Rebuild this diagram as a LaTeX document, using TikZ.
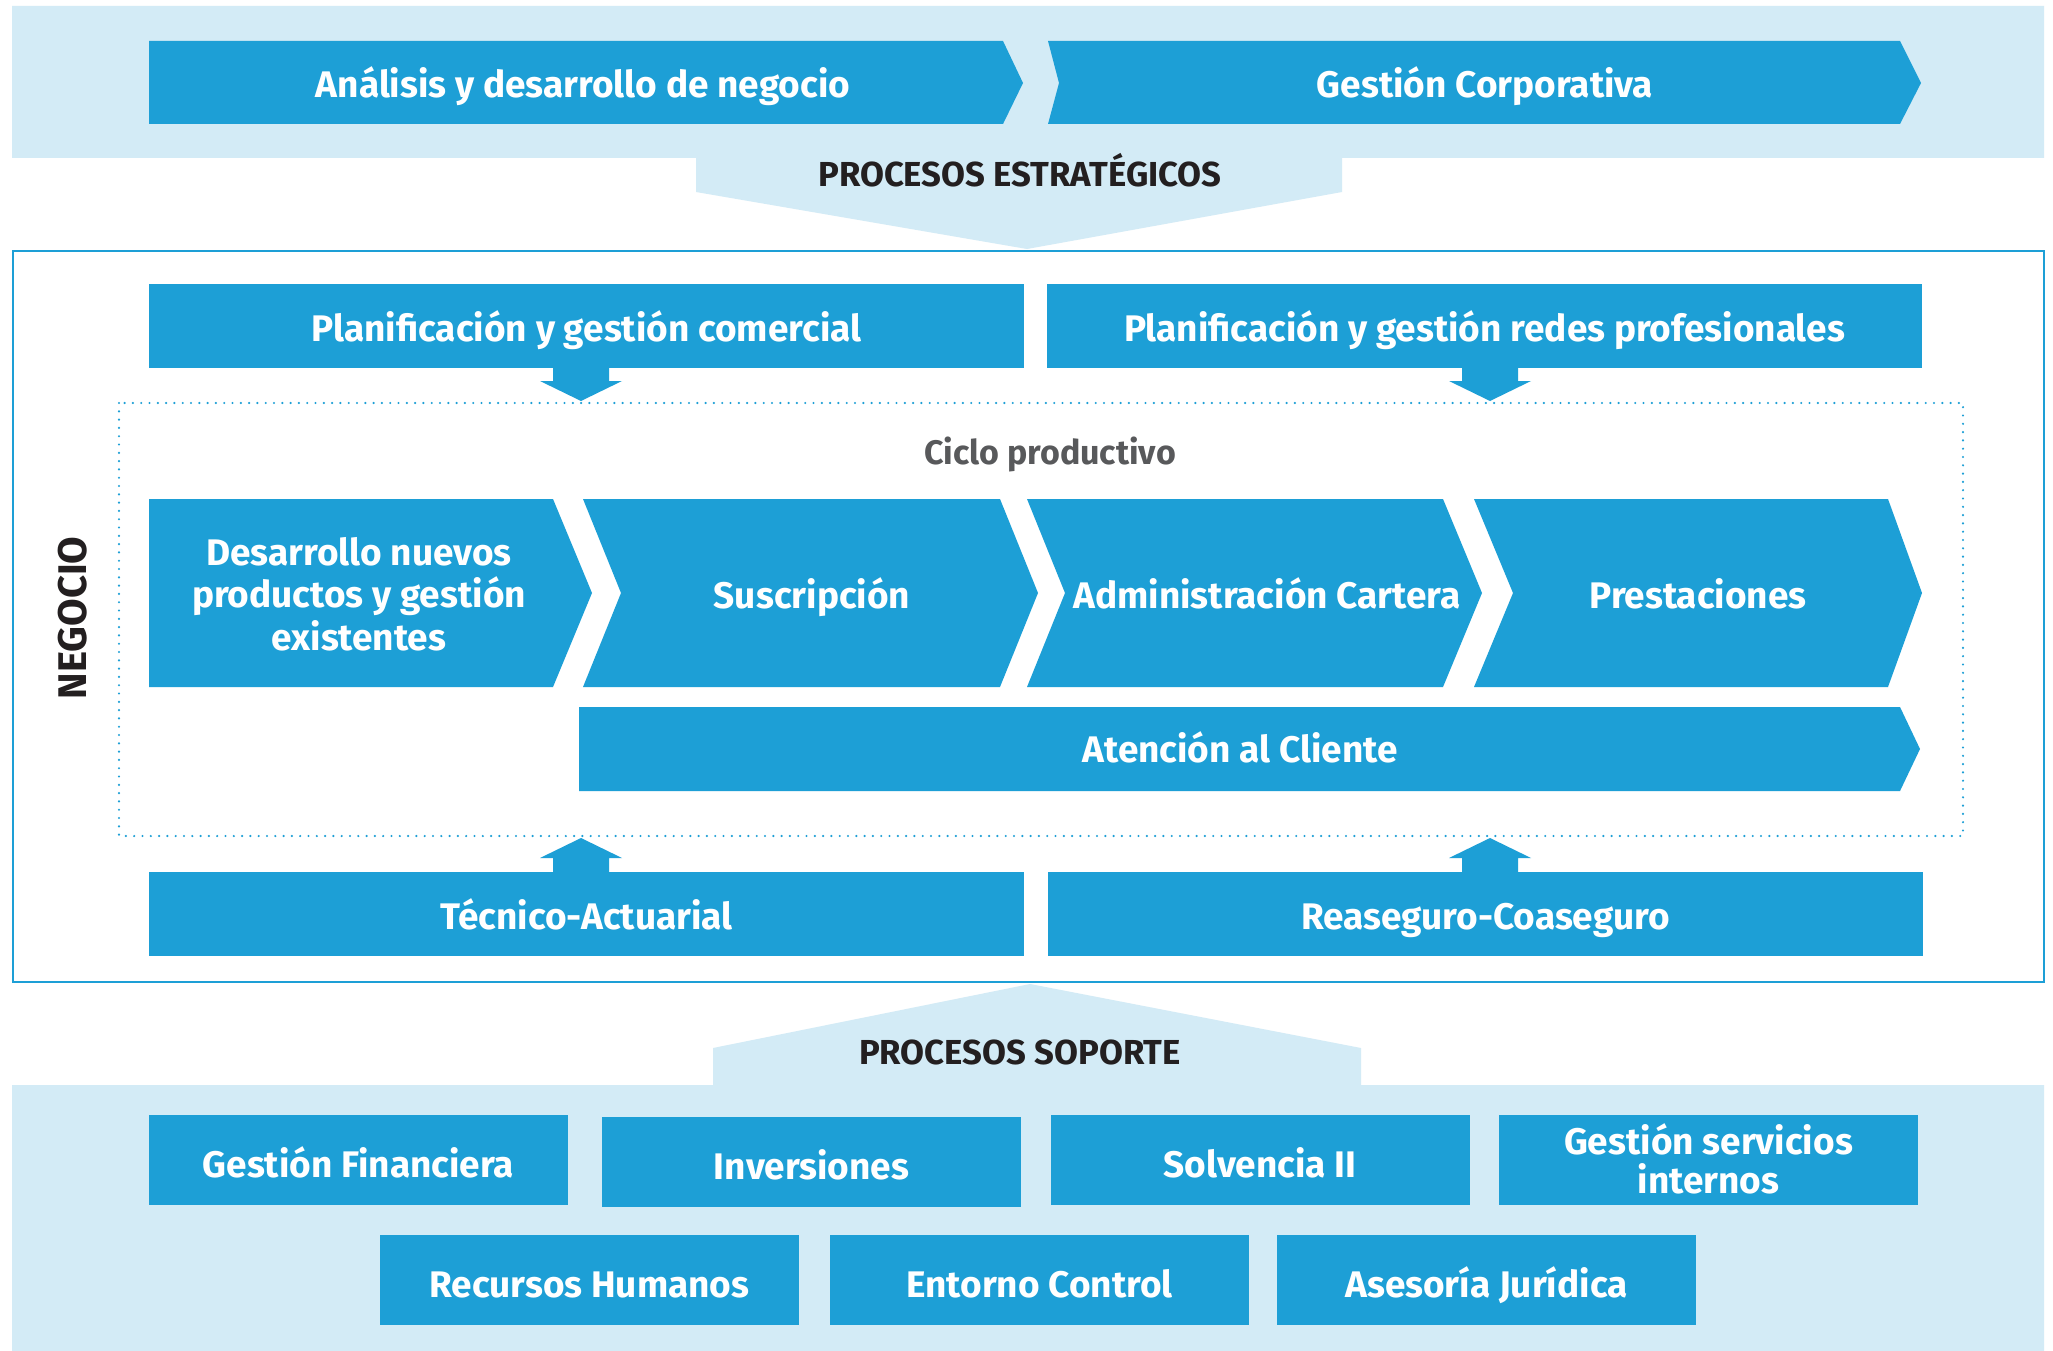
\documentclass[tikz,border=0pt]{standalone}
\usepackage{fontspec}
\setmainfont{Fira Sans}
\usetikzlibrary{calc}
\definecolor{cblue}{RGB}{29,159,214}
\definecolor{clight}{RGB}{211,235,246}
\definecolor{cdark}{RGB}{35,31,32}
\definecolor{cgray}{RGB}{88,89,91}
\begin{document}
\begin{tikzpicture}[x=1pt,y=-1pt,
  lbl/.style={text=white, font=\fontsize{37}{42.5}\selectfont\bfseries, inner sep=0pt, text height=30pt, text depth=0pt, align=center},
  box/.style={fill=cblue, draw=none, lbl, minimum width=#1},
  box/.default=875pt,
  sbox/.style={fill=cblue, draw=none, lbl, minimum width=419pt, minimum height=90pt, font=\fontsize{37}{39}\selectfont\bfseries, text height=34pt},
  head/.style={text=cdark, font=\fontsize{34.7}{40}\selectfont\bfseries, inner sep=0pt, text height=24pt, text depth=0pt},
  shapefill/.style={fill=cblue, draw=none},
  blockarrow/.style={fill=cblue, draw=none}
]
\useasboundingbox (0,0) rectangle (2053,1351);
\fill[white] (0,0) rectangle (2053,1351);

% strategic band
\fill[clight] (12,6) -- (2044,6) -- (2044,158) -- (1342,158) -- (1342,192) -- (1027,249) -- (696,192) -- (696,158) -- (12,158) -- cycle;
% support band
\fill[clight] (12,1351) -- (12,1085) -- (713,1085) -- (713,1048) -- (1030,984) -- (1361,1048) -- (1361,1085) -- (2044,1085) -- (2044,1351) -- cycle;

\node[head] (pe) at (1020,175) {PROCESOS ESTRATÉGICOS};
\node[head] (ps) at (1020,1052) {PROCESOS SOPORTE};

% strategic arrows
\fill[shapefill] (149,41) -- (1003,41) -- (1023,83) -- (1003,124) -- (149,124) -- cycle;
\node[lbl] (an) at (583,83) {Análisis y desarrollo de negocio};
\fill[shapefill] (1048,41) -- (1900,41) -- (1921,83) -- (1900,124) -- (1048,124) -- (1059,83) -- cycle;
\node[lbl] (gc) at (1485,83) {Gestión Corporativa};

% negocio frame
\draw[cblue, line width=2.5pt] (13,251) rectangle (2044,982);
\node[rotate=90, text=cdark, font=\fontsize{40}{40}\selectfont\bfseries, inner sep=0pt] (neg) at (73,618) {NEGOCIO};

% ciclo productivo frame
\draw[cblue, line width=2.4pt, line cap=round, dash pattern=on 0pt off 8.3pt] (119,403) rectangle (1963,836);
\node[text=cgray, font=\fontsize{34}{40}\selectfont\bfseries, inner sep=0pt, text height=24pt, text depth=0pt] (cp) at (1050,452) {Ciclo productivo};

% planning boxes
\node[box, minimum height=84pt] (pc) at (586.5,326) {Planificación y gestión comercial};
\node[box, minimum height=84pt] (pr) at (1484.5,326) {Planificación y gestión redes profesionales};

% down arrows
\coordinate (d1) at (581,401);
\coordinate (d2) at (1490,401);
\foreach \c in {d1,d2}{
  \fill[blockarrow] ($(\c)+(-28,-34)$) -- ($(\c)+(28,-34)$) -- ($(\c)+(28,-20)$) -- ($(\c)+(41,-20)$) -- (\c) -- ($(\c)+(-41,-20)$) -- ($(\c)+(-28,-20)$) -- cycle;
}

% chevrons
\fill[shapefill] (149,499) -- (553,499) -- (592,593) -- (553,687) -- (149,687) -- cycle;
\node[lbl, text height=114pt] (c1) at (359,593) {Desarrollo nuevos\\productos y gestión\\existentes};
\fill[shapefill] (583,499) -- (1000,499) -- (1038,593) -- (1000,687) -- (583,687) -- (621,593) -- cycle;
\node[lbl] (c2) at (812,593) {Suscripción};
\fill[shapefill] (1027,499) -- (1443,499) -- (1482,593) -- (1443,687) -- (1027,687) -- (1065,593) -- cycle;
\node[lbl] (c3) at (1267,593) {Administración Cartera};
\fill[shapefill] (1474,499) -- (1888,499) -- (1922,593) -- (1888,687) -- (1474,687) -- (1513,593) -- cycle;
\node[lbl] (c4) at (1698,593) {Prestaciones};

% atencion al cliente
\fill[shapefill] (579,707) -- (1900,707) -- (1920,749) -- (1900,791) -- (579,791) -- cycle;
\node[lbl] (ac) at (1240,747) {Atención al Cliente};

% up arrows
\coordinate (u1) at (581,838);
\coordinate (u2) at (1490,838);
\foreach \c in {u1,u2}{
  \fill[blockarrow] ($(\c)+(-28,34)$) -- ($(\c)+(28,34)$) -- ($(\c)+(28,20)$) -- ($(\c)+(41,20)$) -- (\c) -- ($(\c)+(-41,20)$) -- ($(\c)+(-28,20)$) -- cycle;
}

% bottom boxes
\node[box, minimum height=84pt] (ta) at (586.5,914) {Técnico-Actuarial};
\node[box, minimum height=84pt] (rc) at (1485.5,914) {Reaseguro-Coaseguro};

% support boxes
\node[sbox] (gf) at (358.5,1160) {Gestión Financiera};
\node[sbox] (inv) at (811.5,1162) {Inversiones};
\node[sbox] (sol) at (1260,1160) {Solvencia II};
\node[sbox, text height=67pt] (gsi) at (1708.5,1160) {Gestión servicios\\internos};
\node[sbox] (rh) at (589.5,1280) {Recursos Humanos};
\node[sbox] (ec) at (1039.5,1280) {Entorno Control};
\node[sbox] (aj) at (1486.5,1280) {Asesoría Jurídica};
\end{tikzpicture}
\end{document}
